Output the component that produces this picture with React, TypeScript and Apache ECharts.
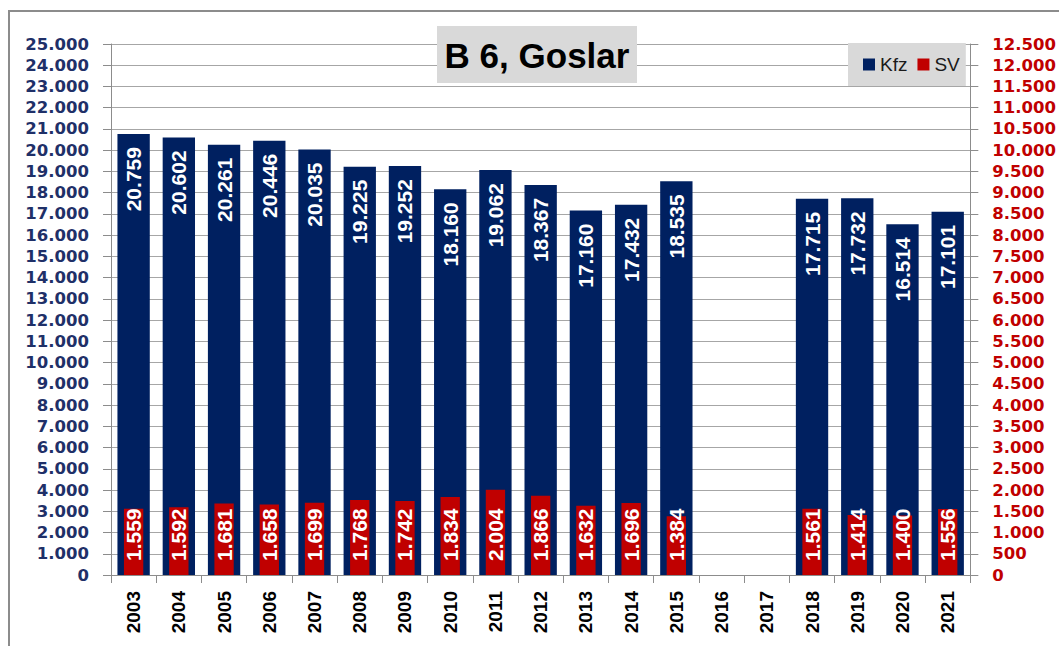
import React, { useEffect, useRef } from "react";
import * as echarts from "echarts";

const years = ["2003", "2004", "2005", "2006", "2007", "2008", "2009", "2010", "2011", "2012", "2013", "2014", "2015", "2016", "2017", "2018", "2019", "2020", "2021"];
const kfz: (number | null)[] = [20759, 20602, 20261, 20446, 20035, 19225, 19252, 18160, 19062, 18367, 17160, 17432, 18535, null, null, 17715, 17732, 16514, 17101];
const sv: (number | null)[] = [1559, 1592, 1681, 1658, 1699, 1768, 1742, 1834, 2004, 1866, 1632, 1696, 1384, null, null, 1561, 1414, 1400, 1556];
const leftMax = 25000;
const leftStep = 1000;
const rightMax = 12500;
const rightStep = 500;
const titleText = "B 6, Goslar";
const seriesNames = ["Kfz", "SV"];

const fmt = (v: any) => (v === null || v === undefined ? "" : String(v).replace(/\B(?=(\d{3})+(?!\d))/g, "."));

export default function App() {
  const ref = useRef<HTMLDivElement>(null);
  useEffect(() => {
    document.body.style.margin = "0";
    if (!ref.current) return;
    const chart = echarts.init(ref.current, undefined, { renderer: "svg" });
    const axisGray = "#8c8c8c";
    const option: any = {
      animation: false,
      backgroundColor: "#ffffff",
      grid: { left: 111, right: 88, top: 44, bottom: 71, containLabel: false },
      legend: {
        data: seriesNames,
        left: 848,
        top: 43,
        backgroundColor: "#d9d9d9",
        padding: [12, 6, 12, 15],
        itemWidth: 12,
        itemHeight: 12,
        itemGap: 10,
        icon: "rect",
        textStyle: { fontFamily: "Liberation Sans", fontSize: 19, color: "#1a1a1a" },
      },
      xAxis: [
        {
          type: "category",
          data: years,
          position: "bottom",
          axisLine: { show: true, lineStyle: { color: axisGray, width: 1 } },
          axisTick: { show: true, length: 8, interval: 0, lineStyle: { color: axisGray } },
          axisLabel: {
            rotate: 90,
            interval: 0,
            margin: 16,
            color: "#000000",
            fontWeight: "bold",
            fontFamily: "Liberation Sans",
            fontSize: 19,
          },
          splitLine: { show: false },
        },
        { type: "category", data: years, position: "bottom", show: false },
      ],
      yAxis: [
        {
          type: "value",
          min: 0,
          max: leftMax,
          interval: leftStep,
          position: "left",
          axisLine: { show: true, lineStyle: { color: axisGray } },
          axisTick: { show: true, length: 8, lineStyle: { color: axisGray } },
          axisLabel: {
            margin: 22,
            formatter: fmt,
            color: "#1f3068",
            fontWeight: "bold",
            fontFamily: "DejaVu Sans",
            fontSize: 16.5,
          },
          splitLine: { show: true, lineStyle: { color: "#a6a6a6", width: 1 } },
        },
        {
          type: "value",
          min: 0,
          max: rightMax,
          interval: rightStep,
          position: "right",
          axisLine: { show: true, lineStyle: { color: axisGray } },
          axisTick: { show: true, length: 8, lineStyle: { color: axisGray } },
          axisLabel: {
            margin: 22,
            formatter: fmt,
            color: "#c00000",
            fontWeight: "bold",
            fontFamily: "DejaVu Sans",
            fontSize: 16.5,
          },
          splitLine: { show: false },
        },
      ],
      series: [
        {
          name: seriesNames[0],
          type: "bar",
          xAxisIndex: 0,
          yAxisIndex: 0,
          data: kfz,
          barWidth: "71.5%",
          itemStyle: { color: "#002060" },
          label: {
            show: true,
            position: "insideTop",
            rotate: 90,
            align: "right",
            verticalAlign: "middle",
            distance: 13,
            formatter: (p: any) => fmt(p.value),
            color: "#ffffff",
            fontWeight: "bold",
            fontFamily: "Liberation Sans",
            fontSize: 21,
          },
        },
        {
          name: seriesNames[1],
          type: "bar",
          xAxisIndex: 1,
          yAxisIndex: 1,
          data: sv,
          barWidth: "42.7%",
          itemStyle: { color: "#c00000" },
          label: {
            show: true,
            position: "insideBottom",
            rotate: 90,
            align: "left",
            verticalAlign: "middle",
            distance: 14,
            formatter: (p: any) => fmt(p.value),
            color: "#ffffff",
            fontWeight: "bold",
            fontFamily: "Liberation Sans",
            fontSize: 21,
          },
        },
      ],
      graphic: [
        {
          type: "rect",
          silent: true,
          z: 100,
          shape: { x: 9, y: 11, width: 1200, height: 1000 },
          style: { fill: "none", stroke: "#8c8c8c", lineWidth: 2 },
        },
        {
          type: "rect",
          silent: true,
          z: 100,
          shape: { x: 437, y: 26, width: 200, height: 57 },
          style: { fill: "#d9d9d9" },
        },
        {
          type: "text",
          silent: true,
          z: 101,
          x: 537,
          y: 55,
          style: {
            text: titleText,
            fill: "#000000",
            fontSize: 35,
            fontWeight: "bold",
            fontFamily: "Liberation Sans",
            align: "center",
            verticalAlign: "middle",
            textAlign: "center",
            textVerticalAlign: "middle",
          },
        },
      ],
    };
    chart.setOption(option);
    return () => chart.dispose();
  }, []);
  return <div ref={ref} style={{ width: 1059, height: 646 }} />;
}
